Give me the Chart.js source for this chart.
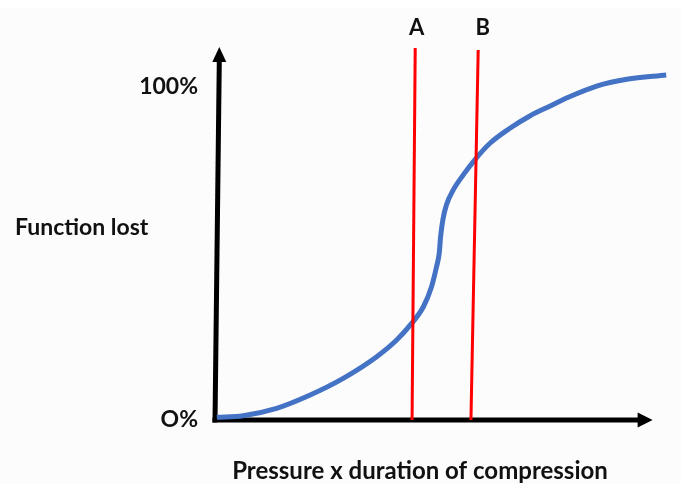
<!DOCTYPE html>
<html><head><meta charset="utf-8">
<script src="https://cdn.jsdelivr.net/npm/chart.js@4"></script>
<style>html,body{margin:0;padding:0;background:#fff;overflow:hidden}#wrap{width:681px;height:484px}</style>
</head><body><div id="wrap"><canvas id="c" width="681" height="484"></canvas></div>
<script>
// ---- data ----
const curveX = [0.4, 6.2, 13.6, 21.0, 28.3, 35.7, 40.1, 43.4, 46.0, 47.8, 48.9, 49.5, 49.8, 50.3, 51.1, 52.6, 54.8, 57.4, 60.7, 65.1, 69.5, 74.0, 78.0, 84.6, 90.9, 99.6];
const curveY = [0.8, 1.3, 3.5, 7.5, 12.5, 19.0, 24.0, 29.0, 34.0, 40.0, 46.0, 50.1, 55.0, 60.1, 64.6, 69.1, 73.6, 78.2, 83.1, 87.6, 91.3, 94.3, 96.9, 100.4, 102.3, 103.6];
const lineAX = [44.2, 43.5];
const lineAY = [111.7, 0];
const lineBX = [58.1, 56.5];
const lineBY = [111.1, 0];
const lineLabels = ['A', 'B'];
const yTickValues = [0, 100];
const yTickLabels = ['O%', '100%'];
const yAxisTitle = 'Function lost';
const xAxisTitle = 'Pressure x duration of compression';
const xAxisEnd = 96.6;   // x arrow tip (data units)
const yAxisEnd = 112;    // y arrow tip (data units)
const yAxisTopX = 0.95;  // slight slant of the hand-drawn y axis

const toPts = (xs, ys) => xs.map((x, i) => ({x: x, y: ys[i]}));
const FONT = 'Lato';

const axesPlugin = {
  id: 'arrows',
  beforeDraw(chart) {
    const ctx = chart.ctx;
    ctx.save();
    ctx.fillStyle = '#fcfcfc';
    ctx.fillRect(0, 8, chart.width, chart.height - 8);
    ctx.restore();
  },
  beforeDatasetsDraw(chart) {
    const ctx = chart.ctx, xs = chart.scales.x, ys = chart.scales.y;
    const x0 = xs.getPixelForValue(0), y0 = ys.getPixelForValue(0);
    const xTip = xs.getPixelForValue(xAxisEnd), yTip = ys.getPixelForValue(yAxisEnd);
    const yTopX = xs.getPixelForValue(yAxisTopX);
    ctx.save();
    ctx.strokeStyle = '#000'; ctx.fillStyle = '#000'; ctx.lineWidth = 5; ctx.lineCap = 'butt';
    ctx.beginPath(); ctx.moveTo(x0, y0 + 2.5); ctx.lineTo(yTopX, yTip + 13); ctx.stroke();
    ctx.beginPath(); ctx.moveTo(yTopX, yTip); ctx.lineTo(yTopX - 7, yTip + 15); ctx.lineTo(yTopX + 7, yTip + 15); ctx.closePath(); ctx.fill();
    ctx.beginPath(); ctx.moveTo(x0 - 2.5, y0); ctx.lineTo(xTip - 13, y0); ctx.stroke();
    ctx.beginPath(); ctx.moveTo(xTip, y0); ctx.lineTo(xTip - 15, y0 - 7.5); ctx.lineTo(xTip - 15, y0 + 7.5); ctx.closePath(); ctx.fill();
    ctx.restore();
  },
  afterDraw(chart) {
    const ctx = chart.ctx, xs = chart.scales.x;
    ctx.save();
    ctx.fillStyle = '#111';
    ctx.font = 'bold 23px ' + FONT;
    ctx.textBaseline = 'middle';
    ctx.textAlign = 'left';
    ctx.fillText(yAxisTitle, 15, 228);
    ctx.textAlign = 'center';
    ctx.font = 'bold 24px ' + FONT;
    ctx.fillText(xAxisTitle, 420, 471);
    ctx.font = 'bold 22px ' + FONT;
    const tops = [lineAX[0], lineBX[0]];
    const shift = [1.5, 4.5];
    lineLabels.forEach((t, i) => {
      ctx.fillText(t, xs.getPixelForValue(tops[i]) + shift[i], chart.chartArea.top - 19);
    });
    ctx.restore();
  }
};

new Chart(document.getElementById('c'), {
  type: 'scatter',
  data: {
    datasets: [
      { data: toPts(curveX, curveY), showLine: true, borderColor: '#4472C4', borderWidth: 5, pointRadius: 0, cubicInterpolationMode: 'monotone', fill: false, clip: false, order: 2 },
      { data: toPts(lineAX, lineAY), showLine: true, borderColor: '#FF0000', borderWidth: 3, pointRadius: 0, clip: false, order: 1 },
      { data: toPts(lineBX, lineBY), showLine: true, borderColor: '#FF0000', borderWidth: 3, pointRadius: 0, clip: false, order: 1 }
    ]
  },
  options: {
    responsive: false,
    animation: false,
    devicePixelRatio: 1,
    layout: { padding: { top: 47, right: 13, bottom: 64, left: 0 } },
    plugins: { legend: { display: false }, tooltip: { enabled: false }, title: { display: false } },
    scales: {
      x: { type: 'linear', min: 0, max: 100, display: false },
      y: {
        type: 'linear', min: 0, max: yAxisEnd,
        grid: { display: false, drawTicks: false },
        border: { display: false },
        afterBuildTicks: s => { s.ticks = yTickValues.map(v => ({ value: v })); },
        afterFit: s => { s.width = 215; },
        ticks: {
          padding: 17,
          color: '#111',
          font: { family: FONT, size: 23, weight: 'bold' },
          callback: (v) => yTickLabels[yTickValues.indexOf(v)]
        }
      }
    }
  },
  plugins: [axesPlugin]
});
</script>
</body></html>
